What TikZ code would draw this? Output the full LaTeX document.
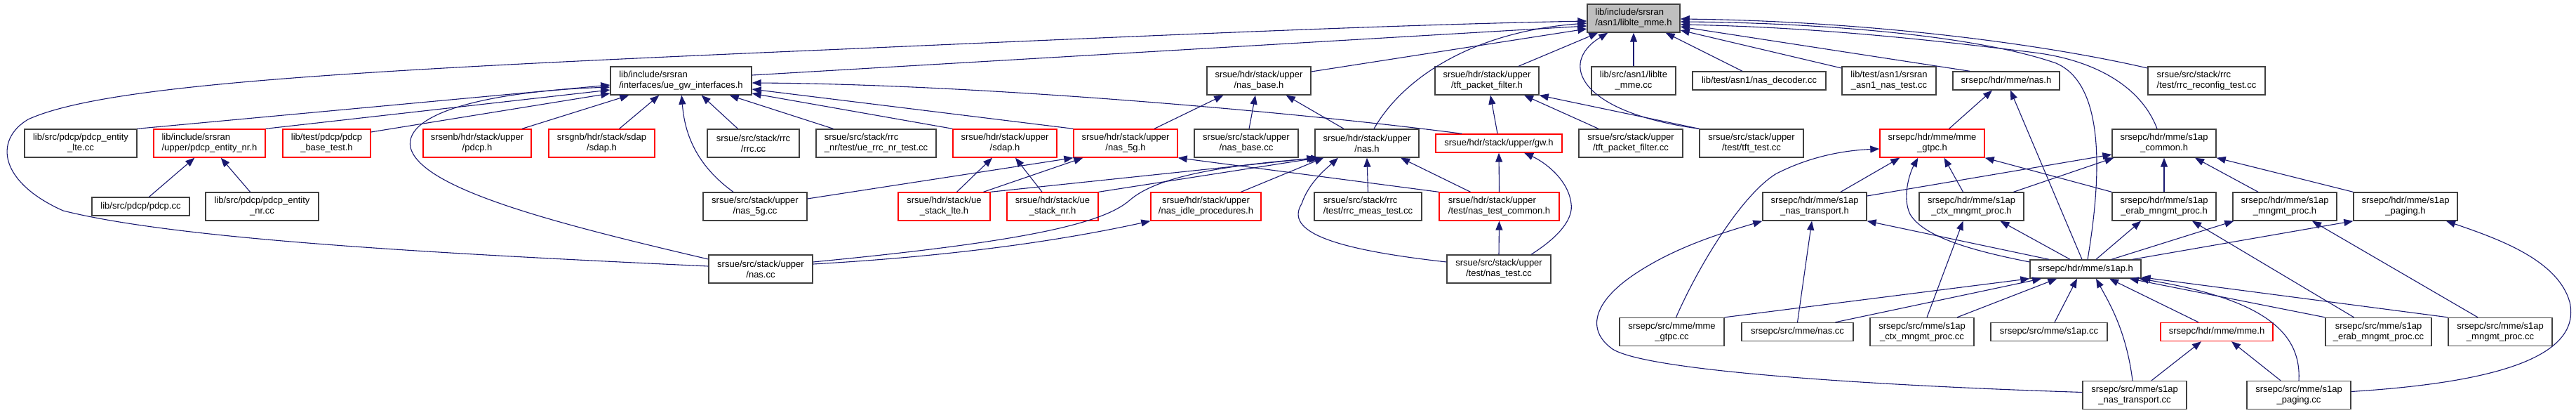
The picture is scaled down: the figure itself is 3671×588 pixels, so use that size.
\documentclass[tikz,border=0pt]{standalone}
\usepackage{fontspec}
\setmainfont{Liberation Sans}
\usetikzlibrary{arrows.meta}
\definecolor{cnavy}{HTML}{191970}
\definecolor{cframe}{HTML}{404040}
\definecolor{cred}{HTML}{FF0000}
\definecolor{cfill}{HTML}{BFBFBF}
\tikzset{
  file/.style={draw=cframe, fill=white, line width=1.4pt, inner sep=0pt, minimum width=148pt, minimum height=40pt, align=center, font=\fontsize{13}{15}\selectfont},
  part/.style={file, draw=cred},
  one/.style={minimum height=26pt},
  lft/.style={align=left},
  dep/.style={draw=cnavy, line width=1.1pt, -{Triangle[length=13pt, width=10pt]}},
}

\begin{document}
\begin{tikzpicture}[x=1pt, y=-1pt]
  \useasboundingbox (0,0) rectangle (3671,588);
  % row 0
  \node[file, fill=cfill, lft, minimum width=132pt] (root) at (2328,26) {lib/include/srsran\\/asn1/liblte\_mme.h};
  % row 1
  \node[file, lft, minimum width=201pt] (uegw) at (970.5,115) {lib/include/srsran\\/interfaces/ue\_gw\_interfaces.h};
  \node[file] (nasbase_h) at (1794,115) {srsue/hdr/stack/upper\\/nas\_base.h};
  \node[file] (tft_h) at (2119,115) {srsue/hdr/stack/upper\\/tft\_packet\_filter.h};
  \node[file, minimum width=120pt] (liblte_cc) at (2328,115) {lib/src/asn1/liblte\\\_mme.cc};
  \node[file, one, minimum width=190pt] (nas_decoder) at (2507,115) {lib/test/asn1/nas\_decoder.cc};
  \node[file, minimum width=134pt] (asn1_test) at (2692,115) {lib/test/asn1/srsran\\\_asn1\_nas\_test.cc};
  \node[file, one, minimum width=152pt] (epc_nas_h) at (2859,115) {srsepc/hdr/mme/nas.h};
  \node[file, lft, minimum width=167pt] (rrc_reconfig) at (3144.5,115) {srsue/src/stack/rrc\\/test/rrc\_reconfig\_test.cc};
  % row 2
  \node[file, minimum width=160pt] (pdcp_lte) at (115,204) {lib/src/pdcp/pdcp\_entity\\\_lte.cc};
  \node[part, lft, minimum width=159pt] (pdcp_nr_h) at (298.5,204) {lib/include/srsran\\/upper/pdcp\_entity\_nr.h};
  \node[part, minimum width=125pt] (pdcp_base) at (465.5,204) {lib/test/pdcp/pdcp\\\_base\_test.h};
  \node[part, minimum width=154pt] (enb_pdcp) at (680,204) {srsenb/hdr/stack/upper\\/pdcp.h};
  \node[part, minimum width=151pt] (gnb_sdap) at (857.5,204) {srsgnb/hdr/stack/sdap\\/sdap.h};
  \node[file, minimum width=131pt] (rrc_cc) at (1073.5,204) {srsue/src/stack/rrc\\/rrc.cc};
  \node[file, lft, minimum width=171pt] (rrc_nr_test) at (1248.5,204) {srsue/src/stack/rrc\\\_nr/test/ue\_rrc\_nr\_test.cc};
  \node[part] (ue_sdap) at (1432,204) {srsue/hdr/stack/upper\\/sdap.h};
  \node[part] (nas5g_h) at (1604,204) {srsue/hdr/stack/upper\\/nas\_5g.h};
  \node[file] (nasbase_cc) at (1776,204) {srsue/src/stack/upper\\/nas\_base.cc};
  \node[file] (ue_nas_h) at (1948,204) {srsue/hdr/stack/upper\\/nas.h};
  \node[part, one, minimum width=180pt] (gw_h) at (2136,204) {srsue/hdr/stack/upper/gw.h};
  \node[file] (tft_cc) at (2324,204) {srsue/src/stack/upper\\/tft\_packet\_filter.cc};
  \node[file] (tft_test) at (2496,204) {srsue/src/stack/upper\\/test/tft\_test.cc};
  \node[part, minimum width=149pt] (mme_gtpc_h) at (2753.5,204) {srsepc/hdr/mme/mme\\\_gtpc.h};
  \node[file] (s1ap_common) at (3084,204) {srsepc/hdr/mme/s1ap\\\_common.h};
  % row 3
  \node[file, one, minimum width=139pt] (pdcp_cc) at (200.5,294) {lib/src/pdcp/pdcp.cc};
  \node[file, minimum width=161pt] (pdcp_nr_cc) at (373.5,294) {lib/src/pdcp/pdcp\_entity\\\_nr.cc};
  \node[file] (nas5g_cc) at (1076,294) {srsue/src/stack/upper\\/nas\_5g.cc};
  \node[part, minimum width=131pt] (stack_lte) at (1345.5,294) {srsue/hdr/stack/ue\\\_stack\_lte.h};
  \node[part, minimum width=130pt] (stack_nr) at (1500,294) {srsue/hdr/stack/ue\\\_stack\_nr.h};
  \node[part, minimum width=157pt] (nas_idle) at (1718.5,294) {srsue/hdr/stack/upper\\/nas\_idle\_procedures.h};
  \node[file, lft, minimum width=153pt] (rrc_meas) at (1949.5,294) {srsue/src/stack/rrc\\/test/rrc\_meas\_test.cc};
  \node[part, lft, minimum width=171pt] (nas_test_common) at (2136.5,294) {srsue/hdr/stack/upper\\/test/nas\_test\_common.h};
  \node[file] (nas_tr_h) at (2586,294) {srsepc/hdr/mme/s1ap\\\_nas\_transport.h};
  \node[file, minimum width=149pt] (ctx_h) at (2809.5,294) {srsepc/hdr/mme/s1ap\\\_ctx\_mngmt\_proc.h};
  \node[file] (erab_h) at (3084,294) {srsepc/hdr/mme/s1ap\\\_erab\_mngmt\_proc.h};
  \node[file] (mngmt_h) at (3256,294) {srsepc/hdr/mme/s1ap\\\_mngmt\_proc.h};
  \node[file] (paging_h) at (3428,294) {srsepc/hdr/mme/s1ap\\\_paging.h};
  % row 4
  \node[file] (ue_nas_cc) at (1084,383) {srsue/src/stack/upper\\/nas.cc};
  \node[file] (nas_test_cc) at (2136,383) {srsue/src/stack/upper\\/test/nas\_test.cc};
  \node[file, one, minimum width=158pt] (s1ap_h) at (2972,383) {srsepc/hdr/mme/s1ap.h};
  % row 5
  \node[file, minimum width=149pt] (mme_gtpc_cc) at (2382.5,472.5) {srsepc/src/mme/mme\\\_gtpc.cc};
  \node[file, one, minimum width=159pt] (epc_nas_cc) at (2561.5,472.5) {srsepc/src/mme/nas.cc};
  \node[file] (ctx_cc) at (2739,472.5) {srsepc/src/mme/s1ap\\\_ctx\_mngmt\_proc.cc};
  \node[file, one, minimum width=166pt] (s1ap_cc) at (2920,472.5) {srsepc/src/mme/s1ap.cc};
  \node[part, one, minimum width=160pt] (mme_h) at (3159,472.5) {srsepc/hdr/mme/mme.h};
  \node[file, minimum width=151pt] (erab_cc) at (3389.5,472.5) {srsepc/src/mme/s1ap\\\_erab\_mngmt\_proc.cc};
  \node[file] (mngmt_cc) at (3563,472.5) {srsepc/src/mme/s1ap\\\_mngmt\_proc.cc};
  % row 6
  \node[file] (nas_tr_cc) at (3042,562.5) {srsepc/src/mme/s1ap\\\_nas\_transport.cc};
  \node[file] (paging_cc) at (3276,562.5) {srsepc/src/mme/s1ap\\\_paging.cc};

  % includes of liblte_mme.h
  \draw[dep] ([yshift=4pt]ue_nas_cc.west) .. controls (600,360) and (250,340) .. (90,300) .. controls (0,260) and (-10,200) .. (40,170) .. controls (150,120) and (500,100) .. (1200,70) .. controls (1700,48) and (2000,35) .. ([yshift=-4pt]root.west);
  \draw[dep] ([yshift=8pt]uegw.east) -- ([yshift=-11pt]root.west);
  \draw[dep] ([yshift=13pt]nasbase_h.east) -- ([yshift=-15pt]root.west);
  \draw[dep] ([xshift=10pt]ue_nas_h.north) .. controls (2000,110) and (2100,45) .. ([yshift=-7pt]root.west);
  \draw[dep] ([xshift=45pt]tft_h.north) -- ([xshift=16pt]root.south west);
  \draw[dep] (tft_test.north west) .. controls (2250,160) and (2220,90) .. ([xshift=30pt]root.south west);
  \draw[dep] (liblte_cc) -- (root);
  \draw[dep] ([xshift=-24pt]nas_decoder.north) -- ([xshift=-21pt]root.south east);
  \draw[dep] ([yshift=18pt]asn1_test.west) -- ([yshift=-17pt]root.east);
  \draw[dep] ([xshift=-52pt]epc_nas_h.north) -- ([yshift=-12pt]root.east);
  \draw[dep] ([yshift=18pt]rrc_reconfig.west) .. controls (2900,60) and (2650,30) .. ([yshift=-1pt]root.east);
  \draw[dep] ([xshift=3pt]s1ap_h.north) .. controls (2995,250) and (3000,120) .. (2930,90) .. controls (2800,45) and (2550,32) .. ([yshift=-5pt]root.east);
  \draw[dep] ([xshift=-10pt]s1ap_common.north) .. controls (3050,120) and (2980,85) .. (2900,75) .. controls (2700,50) and (2550,38) .. ([yshift=-9pt]root.east);
  % includes of ue_gw_interfaces.h
  \draw[dep] (pdcp_lte.north east) -- ([yshift=-6pt]uegw.west);
  \draw[dep] (pdcp_nr_h.north east) -- ([yshift=-13pt]uegw.west);
  \draw[dep] ([yshift=16pt]pdcp_base.east) -- ([yshift=-18pt]uegw.west);
  \draw[dep] ([yshift=14pt]ue_nas_cc.west) .. controls (800,320) and (600,270) .. (585,210) .. controls (575,160) and (700,130) .. ([yshift=-9pt]uegw.west);
  \draw[dep] ([xshift=64pt]enb_pdcp.north) -- ([xshift=27pt]uegw.south west);
  \draw[dep] ([xshift=25pt]gnb_sdap.north) -- ([xshift=70pt]uegw.south west);
  \draw[dep] ([xshift=-31pt]nas5g_cc.north) .. controls (985,230) and (975,180) .. ([xshift=102pt]uegw.south west);
  \draw[dep] ([xshift=-22pt]rrc_cc.north) -- ([xshift=-72pt]uegw.south east);
  \draw[dep] ([xshift=-61pt]rrc_nr_test.north) -- ([xshift=-32pt]uegw.south east);
  \draw[dep] ([xshift=-53pt]gw_h.north) .. controls (1850,160) and (1400,120) .. ([yshift=-3pt]uegw.east);
  \draw[dep] (nas5g_h.north west) -- ([yshift=-12pt]uegw.east);
  \draw[dep] (ue_sdap.north west) -- ([yshift=-18pt]uegw.east);
  % pdcp
  \draw[dep] ([xshift=12pt]pdcp_cc.north) -- ([xshift=59pt]pdcp_nr_h.south west);
  \draw[dep] ([xshift=-17pt]pdcp_nr_cc.north) -- ([xshift=-64pt]pdcp_nr_h.south east);
  % ue nas
  \draw[dep] ([xshift=41pt]nas5g_h.north) -- ([xshift=24pt]nasbase_h.south west);
  \draw[dep] ([xshift=4pt]nasbase_cc.north) -- ([xshift=-5pt]nasbase_h.south);
  \draw[dep] ([xshift=-33pt]ue_nas_h.north) -- ([xshift=-36pt]nasbase_h.south east);
  \draw[dep] ([yshift=11pt]nas5g_cc.east) -- (nas5g_h.south west);
  \draw[dep] ([xshift=18pt]stack_lte.north) -- ([xshift=-18pt]ue_sdap.south);
  \draw[dep] ([xshift=-15pt]stack_nr.north) -- ([xshift=15pt]ue_sdap.south);
  \draw[dep] ([xshift=56pt]stack_lte.north) -- ([xshift=14pt]nas5g_h.south west);
  \draw[dep] (stack_lte.north east) -- ([xshift=2pt]ue_nas_h.south west);
  \draw[dep] (stack_nr.north east) -- ([xshift=5pt]ue_nas_h.south west);
  \draw[dep] ([yshift=10pt]ue_nas_cc.east) .. controls (1450,345) and (1570,320) .. (1610,285) .. controls (1650,250) and (1750,235) .. ([xshift=8pt]ue_nas_h.south west);
  \draw[dep] ([yshift=7pt]ue_nas_cc.east) .. controls (1350,365) and (1500,345) .. (nas_idle.south west);
  \draw[dep] ([xshift=50pt]nas_idle.north) -- ([xshift=13pt]ue_nas_h.south west);
  \draw[dep] (nas_test_common.north west) -- (nas5g_h.south east);
  \draw[dep] (rrc_meas.north) -- (ue_nas_h.south);
  \draw[dep] ([xshift=-41pt]nas_test_common.north) -- ([xshift=48pt]ue_nas_h.south);
  \draw[dep] ([yshift=10pt]nas_test_cc.west) .. controls (1900,355) and (1830,330) .. (1855,290) .. controls (1865,260) and (1890,240) .. ([xshift=-41pt]ue_nas_h.south);
  \draw[dep] (nas_test_common.north) -- (gw_h.south);
  \draw[dep] ([xshift=46pt]nas_test_cc.north) .. controls (2225,335) and (2242,310) .. (2239,290) .. controls (2235,255) and (2200,230) .. ([xshift=36pt]gw_h.south);
  \draw[dep] (nas_test_cc.north) -- (nas_test_common.south);
  \draw[dep] ([xshift=-2pt]gw_h.north) -- ([xshift=5pt]tft_h.south);
  \draw[dep] ([xshift=-46pt]tft_cc.north) -- ([xshift=53pt]tft_h.south);
  \draw[dep] (tft_test.north west) -- (tft_h.south east);
  % epc
  \draw[dep] ([xshift=24pt]mme_gtpc_h.north) -- ([xshift=-20pt]epc_nas_h.south);
  \draw[dep] ([xshift=-5pt]s1ap_h.north) -- ([xshift=6pt]epc_nas_h.south);
  \draw[dep] ([xshift=6pt]mme_gtpc_cc.north) .. controls (2420,380) and (2480,280) .. (2530,248) .. controls (2580,222) and (2630,214) .. ([yshift=-8pt]mme_gtpc_h.west);
  \draw[dep] ([xshift=37pt]nas_tr_h.north) -- ([xshift=29pt]mme_gtpc_h.south west);
  \draw[dep] ([yshift=10pt]s1ap_h.west) .. controls (2800,355) and (2740,335) .. (2722,305) .. controls (2710,280) and (2722,245) .. ([xshift=55pt]mme_gtpc_h.south west);
  \draw[dep] ([xshift=-12pt]ctx_h.north) -- ([xshift=17pt]mme_gtpc_h.south);
  \draw[dep] (erab_h.north west) -- (mme_gtpc_h.south east);
  \draw[dep] ([yshift=15pt]nas_tr_h.east) -- ([yshift=-16pt]s1ap_common.west);
  \draw[dep] ([xshift=60pt]ctx_h.north) -- ([xshift=3pt]s1ap_common.south west);
  \draw[dep] (erab_h) -- (s1ap_common);
  \draw[dep] ([xshift=-38pt]mngmt_h.north) -- ([xshift=44pt]s1ap_common.south);
  \draw[dep] (paging_h.north west) -- (s1ap_common.south east);
  \draw[dep] ([xshift=-52pt]s1ap_h.north) -- (nas_tr_h.south east);
  \draw[dep] ([xshift=-22pt]s1ap_h.north) -- ([xshift=41pt]ctx_h.south);
  \draw[dep] ([xshift=15pt]s1ap_h.north) -- ([xshift=-33pt]erab_h.south);
  \draw[dep] ([xshift=37pt]s1ap_h.north) -- ([xshift=2pt]mngmt_h.south west);
  \draw[dep] ([xshift=67pt]s1ap_h.north) -- (paging_h.south west);
  % includes of s1ap.h
  \draw[dep] (mme_gtpc_cc.north east) -- (s1ap_h.south west);
  \draw[dep] ([xshift=54pt]epc_nas_cc.north) -- ([xshift=17pt]s1ap_h.south west);
  \draw[dep] ([xshift=50pt]ctx_cc.north) -- ([xshift=39pt]s1ap_h.south west);
  \draw[dep] ([xshift=8pt]s1ap_cc.north) -- ([xshift=-12pt]s1ap_h.south);
  \draw[dep] ([xshift=-3pt]nas_tr_cc.north) .. controls (3030,470) and (3005,430) .. ([xshift=15pt]s1ap_h.south);
  \draw[dep] ([xshift=-26pt]mme_h.north) -- ([xshift=34pt]s1ap_h.south);
  \draw[dep] (erab_cc.north west) -- ([xshift=-17pt]s1ap_h.south east);
  \draw[dep] (mngmt_cc.north west) -- ([yshift=2pt]s1ap_h.south east);
  \draw[dep] (paging_cc.north) .. controls (3280,470) and (3220,425) .. ([xshift=-3pt]s1ap_h.south east);
  % sources of the s1ap procedures
  \draw[dep] (epc_nas_cc.north) -- ([xshift=-4pt]nas_tr_h.south);
  \draw[dep] ([yshift=4pt]nas_tr_cc.west) .. controls (2700,550) and (2350,530) .. (2298,497) .. controls (2260,470) and (2270,430) .. (2330,390) .. controls (2390,350) and (2460,330) .. (nas_tr_h.south west);
  \draw[dep] ([xshift=7pt]ctx_cc.north) -- ([xshift=-12pt]ctx_h.south);
  \draw[dep] ([xshift=-35pt]erab_cc.north) -- ([xshift=40pt]erab_h.south);
  \draw[dep] ([xshift=-32pt]mngmt_cc.north) -- ([xshift=39pt]mngmt_h.south);
  \draw[dep] ([yshift=5pt]paging_cc.east) .. controls (3550,545) and (3680,510) .. (3662,430) .. controls (3645,370) and (3560,340) .. ([xshift=58pt]paging_h.south);
  \draw[dep] ([xshift=24pt]nas_tr_cc.north) -- ([xshift=-22pt]mme_h.south);
  \draw[dep] ([xshift=-26pt]paging_cc.north) -- ([xshift=21pt]mme_h.south);
\end{tikzpicture}
\end{document}
